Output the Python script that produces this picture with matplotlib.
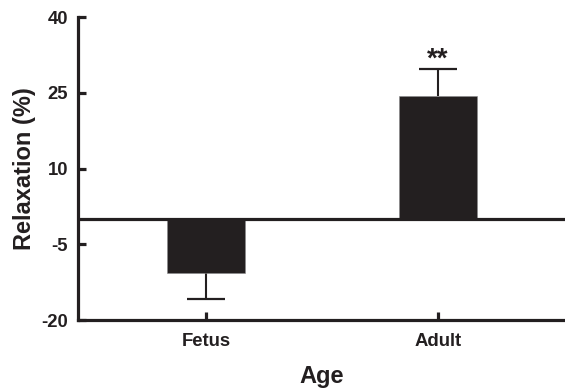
import numpy as np
import matplotlib.pyplot as plt

# data
groups = ['Fetus', 'Adult']
relax = [-10.6, 24.4]      # mean relaxation (%)
err = [5.2, 5.3]           # error bar length
err_dir = [-1, 1]          # fetus error drawn down, adult up
yticks = [-20, -5, 10, 25, 40]

ink = '#231f20'
plt.rcParams['font.family'] = ['Liberation Sans', 'DejaVu Sans']
plt.rcParams['font.weight'] = 'bold'
plt.rcParams['axes.unicode_minus'] = False

fig = plt.figure(figsize=(5.65, 3.88), dpi=100)
ax = fig.add_axes([0.138, 0.175, 0.862, 0.781])

x = np.arange(len(groups))
ax.bar(x, relax, width=0.336, color=ink, edgecolor='#8a8a8a', linewidth=0.4, zorder=2)

# one-sided error bars: stem plus a single cap at the tip
lower = [e if d < 0 else 0 for e, d in zip(err, err_dir)]
upper = [e if d > 0 else 0 for e, d in zip(err, err_dir)]
tips = [r + d * e for r, e, d in zip(relax, err, err_dir)]
ax.errorbar(x, relax, yerr=[lower, upper], fmt='none', ecolor=ink,
            elinewidth=1.5, capsize=0, zorder=1)
ax.plot(x, tips, ls='none', marker='_', ms=27, mew=1.6, color=ink, zorder=1)
ax.axhline(0, color=ink, lw=2.3, zorder=3)

ax.text(x[1], tips[1] + 1.9, '**', ha='center', va='center',
        fontsize=20, fontweight='bold', color=ink)

ax.set_xlim(-0.552, 1.547)
ax.set_ylim(-20, 40)
ax.set_yticks(yticks)
ax.set_xticks(x)
ax.set_xticklabels(groups)

for side in ['top', 'right']:
    ax.spines[side].set_visible(False)
for side in ['left', 'bottom']:
    ax.spines[side].set_linewidth(2.3)
    ax.spines[side].set_color(ink)

ax.tick_params(axis='both', direction='in', length=6, width=2.3, color=ink,
               labelsize=13.3, labelcolor=ink)
ax.tick_params(axis='y', pad=7)
ax.tick_params(axis='x', pad=9)

ax.set_xlabel('Age', fontsize=17, fontweight='bold', color=ink, labelpad=11)
ax.set_ylabel('Relaxation (%)', fontsize=17, fontweight='bold', color=ink, labelpad=4)

fig.savefig('out.png', dpi=100)
